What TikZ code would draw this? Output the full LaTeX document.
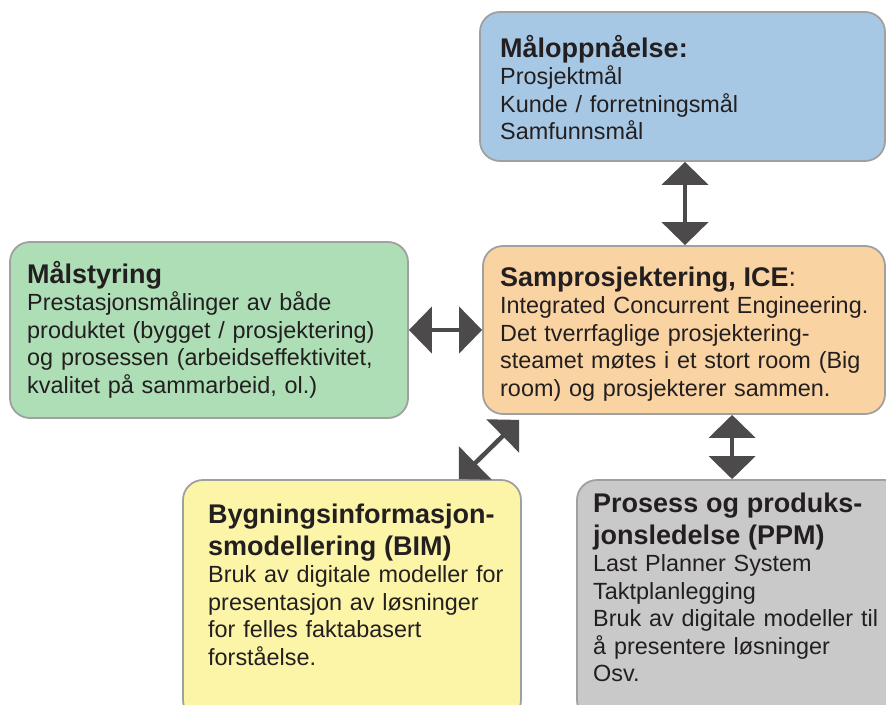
\documentclass[tikz,border=0pt]{standalone}
\usepackage{fontspec}
\setmainfont{Liberation Sans}
\usetikzlibrary{arrows.meta}
\definecolor{cblue}{HTML}{A7C8E5}
\definecolor{cgreen}{HTML}{AEDEB6}
\definecolor{corange}{HTML}{FAD3A2}
\definecolor{cyellow}{HTML}{FCF5A8}
\definecolor{cgray}{HTML}{C9C9C9}
\definecolor{cborder}{HTML}{A0A0A0}
\definecolor{carrow}{HTML}{4D4A4B}
\definecolor{ctext}{HTML}{231F20}
\tikzset{
  box/.style={draw=cborder, line width=1.8pt, rounded corners=20pt, inner sep=0pt},
  txt/.style={anchor=base west, inner sep=0pt, text width=420pt, align=left, text=ctext,
              font=\fontsize{23.4}{27.5}\selectfont},
  ttl/.style={},
  dbl/.style={draw=carrow, line width=4.5pt, >={Triangle[length=23pt,width=46pt]}, <->, fill=carrow},
}
\newcommand{\ttlfont}{\fontsize{27}{27.5}\selectfont\bfseries}
\begin{document}
\begin{tikzpicture}[x=1pt,y=-1pt]
\clip (0,0) rectangle (886,704);
\fill[white] (0,0) rectangle (886,704);
% boxes
\node[box, fill=cblue, minimum width=405pt, minimum height=149pt] (goal) at (682.5,86.5) {};
\node[box, fill=cgreen, minimum width=398pt, minimum height=176pt] (maal) at (209,330) {};
\node[box, fill=corange, minimum width=402pt, minimum height=168pt] (ice) at (684,330) {};
\node[box, fill=cyellow, minimum width=338pt, minimum height=240pt] (bim) at (352,600) {};
\node[box, fill=cgray, minimum width=328pt, minimum height=240pt] (ppm) at (741,600) {};
% texts
\node[txt] (goaltxt) at (500,57) {{\ttlfont Måloppnåelse:}\\Prosjektmål\\Kunde / forretningsmål\\Samfunnsmål};
\node[txt] (maaltxt) at (27,283) {{\ttlfont Målstyring}\\Prestasjonsmålinger av både\\produktet (bygget / prosjektering)\\og prosessen (arbeidseffektivitet,\\kvalitet på sammarbeid, ol.)};
\node[txt] (icetxt) at (500,286) {{\ttlfont Samprosjektering, ICE}{\fontsize{27}{27.5}\selectfont:}\\Integrated Concurrent Engineering.\\Det tverrfaglige prosjektering-\\steamet møtes i et stort room (Big\\room) og prosjekterer sammen.};
\node[txt] (bimtxt) at (208,523) {{\ttlfont Bygningsinformasjon-}\\[4.5pt]{\ttlfont smodellering (BIM)}\\Bruk av digitale modeller for\\presentasjon av løsninger\\for felles faktabasert\\forståelse.};
\node[txt] (ppmtxt) at (593,512) {{\ttlfont Prosess og produks-}\\[4.5pt]{\ttlfont jonsledelse (PPM)}\\Last Planner System\\Taktplanlegging\\Bruk av digitale modeller til\\å presentere løsninger\\Osv.};
% connectors
\coordinate (a1) at ([xshift=2.5pt]goal.south);
\coordinate (a2) at (a1 |- ice.north);
\draw[dbl] (a1) -- (a2);
\draw[dbl] (maal.east) -- (ice.west);
\coordinate (d1) at ([xshift=-63pt]bim.north east);
\coordinate (d2) at ([xshift=37pt,yshift=-5pt]ice.south west);
\draw[dbl] (d1) -- (d2);
\coordinate (b1) at ([xshift=250pt]ice.south west);
\coordinate (b2) at (b1 |- ppm.north);
\draw[dbl] (b1) -- (b2);
\end{tikzpicture}
\end{document}
